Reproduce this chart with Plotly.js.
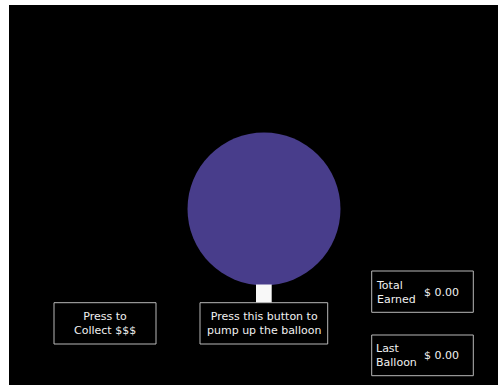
<!DOCTYPE html>
<html>
<head>
<meta charset="utf-8">
<script src="https://cdn.plot.ly/plotly-3.0.1.min.js"></script>
<style>
  html, body { margin: 0; padding: 0; background: #ffffff; width: 498px; height: 385px; overflow: hidden; }
  #chart { position: absolute; left: 9px; top: 5px; width: 489px; height: 380px; }
</style>
</head>
<body>
<div id="chart"></div>
<script>
// Data
const buttonLabels = ["Press to<br>Collect $$$", "Press this button to<br>pump up the balloon"];
const scoreLabels = ["Total<br>Earned", "Last<br>Balloon"];
const scoreValues = [0.00, 0.00];
const balloonSize = [153]; // balloon diameter (pixels at this scale)

// Layout helpers (positions in the pixel-like data space)
const W = 489, H = 380;
const balloonCx = 255, balloonCy = 204;
const r = balloonSize[0] / 2;

const buttonBoxes = [
  {x0: 45, x1: 147, y0: 297.7, y1: 339},
  {x0: 191, x1: 318.7, y0: 297.7, y1: 339}
];
const scoreBoxes = [
  {x0: 362.7, x1: 464.3, y0: 266, y1: 307.3},
  {x0: 362.7, x1: 464.3, y0: 330, y1: 370.7}
];

const textColor = '#f0f0f0';
const borderColor = '#b8b8b8';
const fontFamily = '"DejaVu Sans", Verdana, sans-serif';

const shapes = [];
// balloon
shapes.push({type: 'circle', xref: 'x', yref: 'y',
  x0: balloonCx - r, x1: balloonCx + r, y0: balloonCy - r, y1: balloonCy + r,
  fillcolor: '#483d8b', line: {width: 0}});
// stick
shapes.push({type: 'rect', xref: 'x', yref: 'y',
  x0: 247, x1: 262.7, y0: balloonCy + r - 1, y1: 297.7,
  fillcolor: '#f8f8f8', line: {width: 0}});
buttonBoxes.concat(scoreBoxes).forEach(b => {
  shapes.push({type: 'rect', xref: 'x', yref: 'y', x0: b.x0, x1: b.x1, y0: b.y0, y1: b.y1,
    fillcolor: 'rgba(0,0,0,0)', line: {color: borderColor, width: 1}});
});

const annotations = [];
buttonLabels.forEach((t, i) => {
  const b = buttonBoxes[i];
  annotations.push({x: (b.x0 + b.x1) / 2, y: (b.y0 + b.y1) / 2 + 0.5, xref: 'x', yref: 'y',
    text: t, showarrow: false, xanchor: 'center', yanchor: 'middle', align: 'center',
    font: {family: fontFamily, size: 11, color: textColor}});
});
scoreLabels.forEach((t, i) => {
  const b = scoreBoxes[i];
  annotations.push({x: b.x0 + 2, y: (b.y0 + b.y1) / 2 + 0.5, xref: 'x', yref: 'y',
    text: t, showarrow: false, xanchor: 'left', yanchor: 'middle', align: 'left',
    font: {family: fontFamily, size: 11, color: textColor}});
  annotations.push({x: b.x0 + 50.5, y: (b.y0 + b.y1) / 2 + 0.5, xref: 'x', yref: 'y',
    text: '$ ' + scoreValues[i].toFixed(2), showarrow: false, xanchor: 'left', yanchor: 'middle',
    font: {family: fontFamily, size: 11, color: textColor}});
});

const layout = {
  width: W, height: H,
  margin: {l: 0, r: 0, t: 0, b: 0, pad: 0},
  paper_bgcolor: '#000000', plot_bgcolor: '#000000',
  xaxis: {range: [0, W], visible: false, fixedrange: true},
  yaxis: {range: [H, 0], visible: false, fixedrange: true},
  shapes: shapes,
  annotations: annotations,
  showlegend: false
};

Plotly.newPlot('chart', [{x: [], y: [], type: 'scatter', mode: 'markers', hoverinfo: 'skip'}], layout, {displayModeBar: false, staticPlot: true});
</script>
</body>
</html>
